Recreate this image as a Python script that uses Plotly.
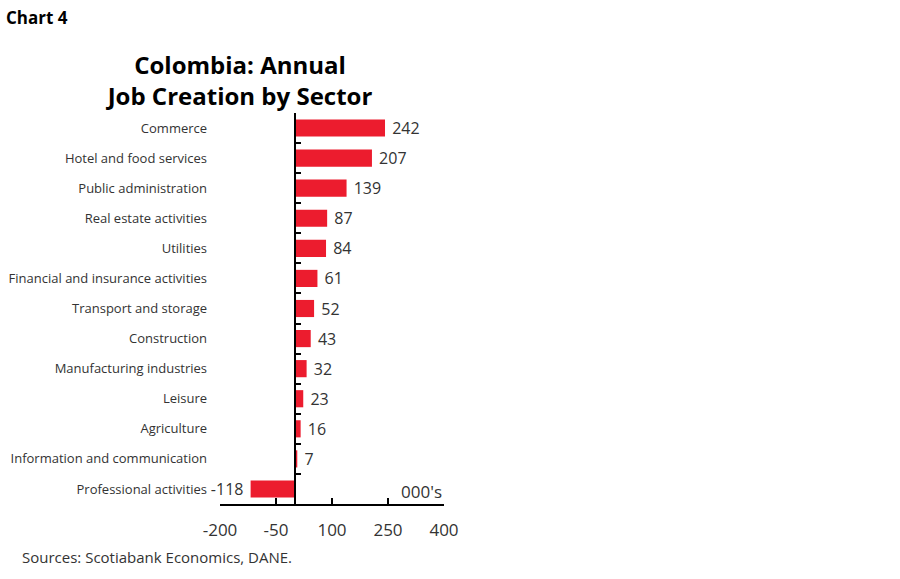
import plotly.graph_objects as go

sectors = ['Commerce', 'Hotel and food services', 'Public administration',
           'Real estate activities', 'Utilities', 'Financial and insurance activities',
           'Transport and storage', 'Construction', 'Manufacturing industries',
           'Leisure', 'Agriculture', 'Information and communication',
           'Professional activities']
jobs = [242, 207, 139, 87, 84, 61, 52, 43, 32, 23, 16, 7, -118]
x_ticks = [-200, -50, 100, 250, 400]
x_tick_labels = ['-200', '-50', '100', '250', '400']

# plot area in pixels: x 220..444, y 113..504
L, R, T, B = 220, 444, 113, 504
W, H = 900, 579

labels = [' %d' % v if v >= 0 else '%d ' % v for v in jobs]

fig = go.Figure()
fig.add_trace(go.Bar(
    x=jobs, y=sectors, orientation='h',
    marker=dict(color='#EC1C2E', line=dict(width=0)),
    text=labels, textposition='outside', cliponaxis=False, constraintext='none',
    textfont=dict(size=16, color='#333333', family='Open Sans'),
    hoverinfo='x+y'))

fig.update_layout(
    width=W, height=H,
    margin=dict(l=L, r=W - R, t=T, b=H - B, autoexpand=False),
    paper_bgcolor='white', plot_bgcolor='white',
    showlegend=False, bargap=0.43,
    font=dict(family='Open Sans', color='#333333'),
    title=dict(text='<b>Colombia: Annual<br>Job Creation by Sector</b>',
               font=dict(size=24, color='#000000', family='Open Sans'),
               xref='container', yref='container',
               x=240 / W, xanchor='center', y=1 - 74 / H, yanchor='top'),
    xaxis=dict(range=[-200, 400], tickvals=x_ticks, ticktext=x_tick_labels,
               showgrid=False, zeroline=False, automargin=False,
               showline=True, linecolor='#000000', linewidth=2,
               ticks='inside', ticklen=6, tickwidth=2, tickcolor='#000000',
               ticklabelstandoff=10,
               tickfont=dict(size=17, color='#333333'), fixedrange=True),
    yaxis=dict(categoryorder='array', categoryarray=sectors[::-1],
               anchor='free', position=(0 - (-200)) / 600,
               showgrid=False, zeroline=False, automargin=False,
               showline=True, linecolor='#000000', linewidth=2,
               ticks='inside', ticklen=5, tickwidth=2, tickcolor='#000000',
               tickson='boundaries', ticklabelstandoff=84,
               tickfont=dict(size=13, color='#333333'), fixedrange=True),
    annotations=[
        dict(text="000's", xref='paper', yref='paper', x=1, y=(B - 491) / (B - T),
             xanchor='right', yanchor='middle', showarrow=False,
             font=dict(size=17, color='#333333')),
        dict(text='<b>Chart 4</b>', xref='paper', yref='paper',
             x=(4 - L) / (R - L), y=(B - 18) / (B - T),
             xanchor='left', yanchor='middle', showarrow=False,
             font=dict(size=17, color='#000000')),
        dict(text='Sources: Scotiabank Economics, DANE.', xref='paper', yref='paper',
             x=(20 - L) / (R - L), y=(B - 557) / (B - T),
             xanchor='left', yanchor='middle', showarrow=False,
             font=dict(size=15, color='#333333')),
    ],
)

# browser default body margin would push the figure 8px right/down
fig.write_html('out.html', config={'displayModeBar': False},
               post_script="document.body.style.margin='0';")
